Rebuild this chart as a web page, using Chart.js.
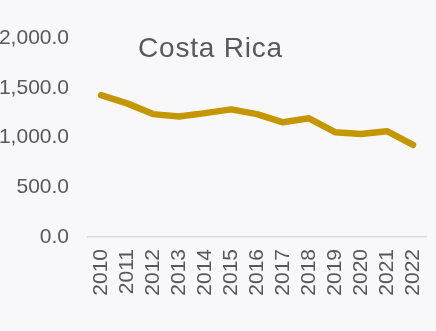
<!DOCTYPE html>
<html>
<head>
<meta charset="utf-8">
<script src="https://cdn.jsdelivr.net/npm/chart.js@4.4.1/dist/chart.umd.min.js"></script>
<style>
  html, body { margin: 0; padding: 0; background: #F8F8FB; }
  #wrap { position: relative; width: 436px; height: 331px; }
</style>
</head>
<body>
<div id="wrap"><canvas id="c" width="436" height="331"></canvas></div>
<script>
const chartTitle = "Costa Rica";
const years = ["2010","2011","2012","2013","2014","2015","2016","2017","2018","2019","2020","2021","2022"];
const values = [1425, 1343, 1235, 1212, 1245, 1283, 1235, 1153, 1193, 1053, 1035, 1063, 925];
const yTicks = [0, 500, 1000, 1500, 2000];

const textColor = "#595959";
const fontFamily = "'Liberation Sans', Arial, sans-serif";

// Title drawn inside the plot area, upper left
const insideTitle = {
  id: "insideTitle",
  afterDraw(chart) {
    const { ctx, chartArea } = chart;
    ctx.save();
    ctx.fillStyle = textColor;
    ctx.font = "28px " + fontFamily;
    ctx.textAlign = "left";
    ctx.textBaseline = "alphabetic";
    if ("letterSpacing" in ctx) ctx.letterSpacing = "0.8px";
    ctx.fillText(chartTitle, chartArea.left + 50, chartArea.top + 19);
    ctx.restore();
  }
};

new Chart(document.getElementById("c"), {
  type: "line",
  data: {
    labels: years,
    datasets: [{
      data: values,
      borderColor: "#C49600",
      borderWidth: 6.5,
      borderCapStyle: "round",
      borderJoinStyle: "round",
      pointRadius: 0,
      tension: 0,
      fill: false
    }]
  },
  options: {
    responsive: false,
    animation: false,
    layout: { padding: { left: 0, right: 10, top: 38, bottom: 0 } },
    plugins: { legend: { display: false }, tooltip: { enabled: false }, title: { display: false } },
    scales: {
      x: {
        offset: true,
        grid: { display: false, drawTicks: false },
        border: { display: true, color: "#D9D9D9", width: 1.5 },
        ticks: {
          color: textColor,
          font: { family: fontFamily, size: 21 },
          minRotation: 90,
          maxRotation: 90,
          autoSkip: false,
          padding: 12
        },
        afterFit(scale) {
          scale.height = 94;
          scale.paddingLeft = 0;
          scale.paddingRight = 0;
        }
      },
      y: {
        min: 0,
        max: 2000,
        afterBuildTicks(scale) { scale.ticks = yTicks.map(v => ({ value: v })); },
        grid: { display: false, drawTicks: false },
        border: { display: false },
        ticks: {
          color: textColor,
          font: { family: fontFamily, size: 21 },
          padding: 19,
          callback: v => Number(v).toLocaleString("en-US", { minimumFractionDigits: 1, maximumFractionDigits: 1 })
        },
        afterFit(scale) {
          scale.width = 88;
          scale.paddingTop = 0;
          scale.paddingBottom = 0;
        }
      }
    }
  },
  plugins: [insideTitle]
});
</script>
</body>
</html>
